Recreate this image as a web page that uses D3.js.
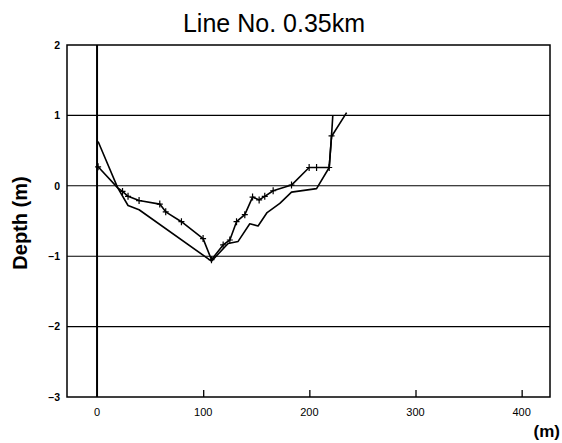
<!DOCTYPE html>
<html>
<head>
<meta charset="utf-8">
<script src="https://cdn.jsdelivr.net/npm/d3@7"></script>
<style>
  html, body { margin: 0; padding: 0; background: #fff; }
  svg { display: block; }
  text { font-family: "Liberation Sans", Arial, sans-serif; fill: #000; }
</style>
</head>
<body>
<svg id="chart" width="562" height="443"></svg>
<script>
// Cross-section profile, distance along line (m) vs depth (m)
const titleText = "Line No. 0.35km";
const yLabelText = "Depth (m)";
const xUnitText = "(m)";

const xTicks = [0, 100, 200, 300, 400];
const yTicks = [2, 1, 0, -1, -2, -3];
const gridDepths = [1, 0, -1, -2];

// Surveyed profile (drawn with + markers)
const surveyX = [1, 19.5, 24, 29.2, 39.6, 59.1, 64.7, 79.5, 99.9, 107.8, 118.8, 125.1, 131.4, 139.2, 146.5, 152.7, 158, 165.9, 183.2, 199.8, 206.8, 218.7, 220.9, 222.1];
const surveyY = [0.27, -0.03, -0.08, -0.15, -0.21, -0.26, -0.37, -0.51, -0.75, -1.05, -0.84, -0.77, -0.51, -0.41, -0.16, -0.20, -0.15, -0.07, 0.01, 0.26, 0.26, 0.26, 0.71, 1.0];

// Second profile (plain line)
const profileX = [1, 19.5, 29.2, 39.6, 107.8, 123.5, 132.9, 143.9, 151.7, 160.2, 172.2, 183.2, 206.8, 218.7, 220.9, 235.1];
const profileY = [0.63, -0.03, -0.28, -0.34, -1.07, -0.82, -0.79, -0.54, -0.57, -0.38, -0.25, -0.09, -0.04, 0.26, 0.70, 1.04];

const svg = d3.select("#chart");
const L = 67, R = 550, T = 45, B = 397;

const x = d3.scaleLinear().domain([-28.3, 426.7]).range([L, R]);
const y = d3.scaleLinear().domain([-3, 2]).range([B, T]);

// Title
svg.append("text")
  .attr("x", 274).attr("y", 32)
  .attr("text-anchor", "middle")
  .attr("font-size", 25)
  .text(titleText);

// Horizontal grid lines
svg.append("g").selectAll("line").data(gridDepths).join("line")
  .attr("x1", L).attr("x2", R)
  .attr("y1", d => y(d)).attr("y2", d => y(d))
  .attr("stroke", "#000").attr("stroke-width", 1.1);

// Frame
svg.append("rect")
  .attr("x", L).attr("y", T).attr("width", R - L).attr("height", B - T)
  .attr("fill", "none").attr("stroke", "#000").attr("stroke-width", 1.5);

// Y axis labels
const yAxis = d3.axisLeft(y).tickValues(yTicks).tickSize(0).tickPadding(7)
  .tickFormat(d => d < 0 ? "\u2013" + Math.abs(d) : String(d));
const gy = svg.append("g").attr("transform", `translate(${L},0)`).call(yAxis);
gy.select(".domain").remove();
gy.selectAll("text")
  .attr("font-size", 10.5).attr("font-weight", "bold")
  .attr("font-family", "Liberation Sans, Arial, sans-serif");

// X axis: short inward ticks and labels
const xAxis = d3.axisTop(x).tickValues(xTicks.filter(d => d > 0)).tickSize(7).tickFormat("");
const gx = svg.append("g").attr("transform", `translate(0,${B})`).call(xAxis);
gx.select(".domain").remove();
gx.selectAll("line").attr("stroke-width", 1.3);

svg.append("g").selectAll("text").data(xTicks).join("text")
  .attr("x", d => x(d)).attr("y", B + 19)
  .attr("text-anchor", "middle")
  .attr("font-size", 11)
  .text(d => d);

// Zero-distance reference line
svg.append("line")
  .attr("x1", x(0)).attr("x2", x(0))
  .attr("y1", T).attr("y2", B)
  .attr("stroke", "#000").attr("stroke-width", 2);

// Axis titles
svg.append("text")
  .attr("transform", `translate(27,${(y(0) + y(-1)) / 2 + 2}) rotate(-90)`)
  .attr("text-anchor", "middle")
  .attr("font-size", 20).attr("font-weight", "bold")
  .text(yLabelText);

svg.append("text")
  .attr("x", 560).attr("y", 437)
  .attr("text-anchor", "end")
  .attr("font-size", 17).attr("font-weight", "bold")
  .text(xUnitText);

// Profiles
const line = d3.line().x(d => x(d[0])).y(d => y(d[1]));
const survey = d3.zip(surveyX, surveyY);
const profile = d3.zip(profileX, profileY);

svg.append("path").datum(profile).attr("d", line)
  .attr("fill", "none").attr("stroke", "#000").attr("stroke-width", 1.6)
  .attr("stroke-linejoin", "round");

svg.append("path").datum(survey).attr("d", line)
  .attr("fill", "none").attr("stroke", "#000").attr("stroke-width", 1.6)
  .attr("stroke-linejoin", "round");

// + markers at surveyed points
svg.append("g").selectAll("path").data(survey.filter((d, i) => i !== 1 && i !== survey.length - 1)).join("path")
  .attr("d", d => {
    const px = x(d[0]), py = y(d[1]);
    return `M${px - 3},${py}H${px + 3}M${px},${py - 3.5}V${py + 3.5}`;
  })
  .attr("stroke", "#000").attr("stroke-width", 1.2).attr("fill", "none");
</script>
</body>
</html>
